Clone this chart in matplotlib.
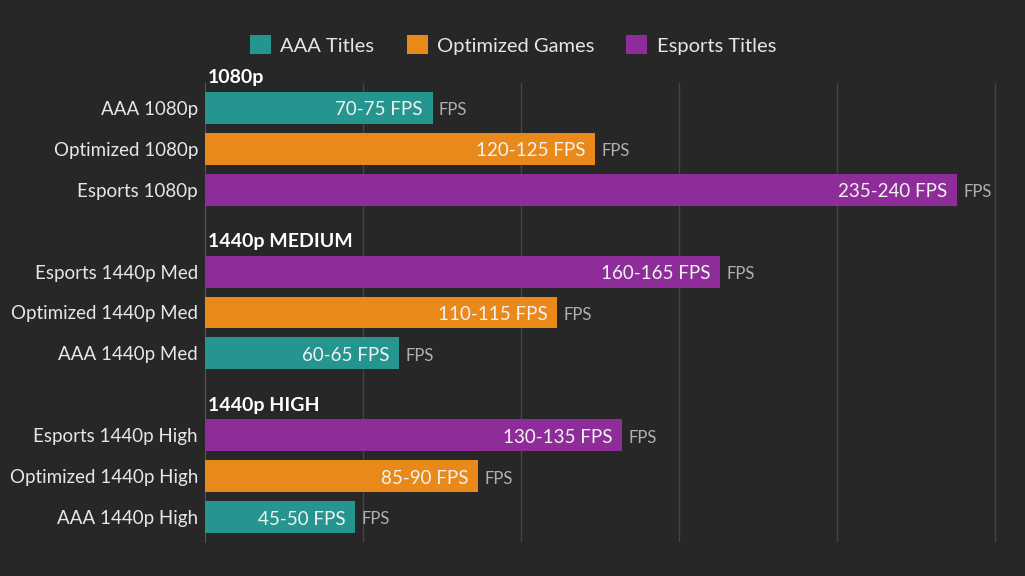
import matplotlib
matplotlib.use("Agg")
import matplotlib.pyplot as plt
from matplotlib.patches import Patch

plt.rcParams['font.family'] = ['Lato', 'DejaVu Sans']

# Data
categories = ["AAA 1080p", "Optimized 1080p", "Esports 1080p",
              "Esports 1440p Med", "Optimized 1440p Med", "AAA 1440p Med",
              "Esports 1440p High", "Optimized 1440p High", "AAA 1440p High"]
fps_values = [72, 123.5, 238, 163, 111.5, 61.5, 132, 86.5, 47.5]
fps_labels = ["70-75 FPS", "120-125 FPS", "235-240 FPS",
              "160-165 FPS", "110-115 FPS", "60-65 FPS",
              "130-135 FPS", "85-90 FPS", "45-50 FPS"]
series = ["AAA", "Optimized", "Esports", "Esports", "Optimized", "AAA",
          "Esports", "Optimized", "AAA"]
group_names = ["1080p", "1440p MEDIUM", "1440p HIGH"]
legend_names = ["AAA Titles", "Optimized Games", "Esports Titles"]

colors = {"AAA": "#25968f", "Optimized": "#e8891a", "Esports": "#8e2d9a"}
bg = "#272727"

positions = [0, 1, 2, 4, 5, 6, 8, 9, 10]
group_pos = [-0.73, 3.27, 7.27]

fig = plt.figure(figsize=(10.25, 5.76), dpi=100, facecolor=bg)
ax = fig.add_axes([205/1025, 34/576, 821.6/1025, (542-83)/576])
ax.set_facecolor(bg)

ax.barh(positions, fps_values, height=0.78,
        color=[colors[s] for s in series], zorder=3)

ax.set_xlim(0, 260)
ax.set_ylim(10.6, -0.6)
ax.set_xticks([50, 100, 150, 200, 250])
ax.xaxis.grid(True, color="#454545", lw=1, zorder=0)
ax.tick_params(axis='x', length=0, labelbottom=False)
ax.set_yticks(positions)
ax.set_yticklabels(categories, color="#e6e6e6", fontsize=13.5)
ax.tick_params(axis='y', length=0, pad=5)
for s in ["top", "right", "bottom"]:
    ax.spines[s].set_visible(False)
ax.spines["left"].set_color("#555555")

for p, v, lab in zip(positions, fps_values, fps_labels):
    ax.annotate(lab, (v, p), xytext=(-7, -1.5), textcoords="offset points",
                ha="right", va="center", color="#f2f2f2", fontsize=13.5, zorder=4)
    ax.annotate("FPS", (v, p), xytext=(4.5, -1.5), textcoords="offset points",
                ha="left", va="center", color="#b0b0b0", fontsize=12, zorder=4)

for g, gp in zip(group_names, group_pos):
    ax.text(1, gp, g, ha="left", va="center", color="white",
            fontsize=14, fontweight="bold", clip_on=False)

handles = [Patch(facecolor=colors[k], edgecolor="none") for k in ["AAA", "Optimized", "Esports"]]
leg = fig.legend(handles, legend_names, loc="center", bbox_to_anchor=(513/1025, 1 - 45/576),
                 ncol=3, frameon=False, fontsize=14.5, handlelength=1.05, handleheight=1.05,
                 columnspacing=1.6, handletextpad=0.45)
for t in leg.get_texts():
    t.set_color("#e6e6e6")

fig.savefig("out.png", dpi=100, facecolor=bg)
